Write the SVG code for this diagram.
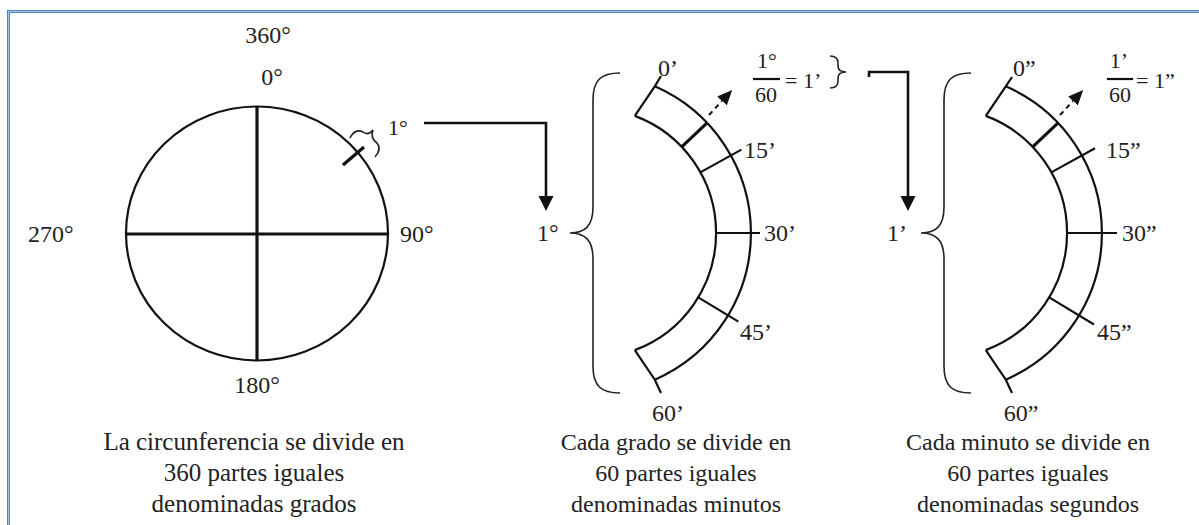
<svg xmlns="http://www.w3.org/2000/svg" width="1199" height="525" viewBox="0 0 1199 525">
<style>
  text { font-family: "Liberation Serif", "Times New Roman", serif; fill: #222; }
  .lbl { font-size: 24px; }
  .frac { font-size: 22px; }
  .cap { font-size: 25px; text-anchor: middle; }
  .cap2 { font-size: 24px; text-anchor: middle; }
  .ln { fill: none; stroke: #111; stroke-width: 2.2; }
  .thin { fill: none; stroke: #222; stroke-width: 1.6; }
  .thick { fill: none; stroke: #111; stroke-width: 3.2; }
  .conn { fill: none; stroke: #111; stroke-width: 2.6; }
  .dash { fill: none; stroke: #111; stroke-width: 2; stroke-dasharray: 5 4; }
</style>
<defs>
  <marker id="ah" markerUnits="userSpaceOnUse" markerWidth="16" markerHeight="16" refX="0" refY="7.5" orient="auto">
    <path d="M0,0 L15,7.5 L0,15 z" fill="#111"/>
  </marker>
  <marker id="ahs" markerUnits="userSpaceOnUse" markerWidth="16" markerHeight="14" refX="0" refY="6.5" orient="auto">
    <path d="M0,0 L15,6.5 L0,13 z" fill="#111"/>
  </marker>
</defs>
<rect width="1199" height="525" fill="#fff"/>
<path d="M1199,11.5 H8.5 V525" fill="none" stroke="#4F81BD" stroke-width="3"/>
<path d="M1199,11.5 H8.5 V525" fill="none" stroke="#A9C4E8" stroke-width="1"/>

<g id="circle">
  <ellipse cx="257" cy="233.5" rx="131" ry="127" class="ln" stroke-width="2.4"/>
  <line x1="257" y1="106.5" x2="257" y2="360.5" class="thick" stroke-width="2.8"/>
  <line x1="126" y1="234" x2="388" y2="234" class="thick" stroke-width="2.8"/>
  <line x1="343" y1="165" x2="364" y2="147" class="thick" stroke-width="3.4"/>
  <path d="M350,138 Q355,128 363,132 Q368,136 373,130 Q370,138 377,143 Q382,149 375,157" class="thin"/>
  <text x="268" y="43" class="lbl" text-anchor="middle">360°</text>
  <text x="272" y="85" class="lbl" text-anchor="middle">0°</text>
  <text x="28" y="242" class="lbl">270°</text>
  <text x="400" y="242" class="lbl">90°</text>
  <text x="257" y="393" class="lbl" text-anchor="middle">180°</text>
  <text x="388" y="135" class="frac">1°</text>
  <text class="cap"><tspan x="254" y="450">La circunferencia se divide en</tspan><tspan x="254" y="481">360 partes iguales</tspan><tspan x="254" y="512">denominadas grados</tspan></text>
</g>

<g id="minutes">
  <path d="M620,73 C601,73 593,80 593,100 L593,207 C593,226 585,233 570,233 C585,233 593,240 593,259 L593,366 C593,386 601,393 620,393" class="thin"/>
  <text x="537" y="241" class="lbl">1°</text>
  <path d="M634.8,115.9 A125,125 0 0 1 634.8,350.1" class="ln"/>
  <path d="M654.8,86.3 A160,160 0 0 1 654.8,379.7" class="ln"/>
  <path d="M634.8,115.9 L654.8,86.3 L661,76" class="ln"/>
  <path d="M634.8,350.1 L654.8,379.7 L661,393" class="ln"/>
  <line x1="681.7" y1="146.9" x2="707.1" y2="122.9" class="thick"/>
  <line x1="709" y1="115" x2="722" y2="101" class="dash" marker-end="url(#ahs)"/>
  <line x1="700.3" y1="172.4" x2="741.4" y2="149.6" class="ln" stroke-width="1.8"/>
  <line x1="716" y1="233" x2="760" y2="233" class="ln" stroke-width="2.6"/>
  <line x1="698.2" y1="297.4" x2="738.4" y2="321.6" class="ln" stroke-width="1.8"/>
  <text x="658" y="76" class="lbl">0’</text>
  <text x="744" y="158" class="lbl">15’</text>
  <text x="764" y="241" class="lbl">30’</text>
  <text x="740" y="340" class="lbl">45’</text>
  <text x="668" y="421" class="lbl" text-anchor="middle">60’</text>
  <text x="767" y="68" class="frac" text-anchor="middle">1°</text>
  <line x1="753" y1="79" x2="780" y2="79" class="ln" stroke-width="1.4"/>
  <text x="766" y="102" class="frac" text-anchor="middle">60</text>
  <text x="785" y="88" class="frac">= 1’</text>
  <path d="M830,56 Q838,56 838,63 L838,66 Q838,72 846,72 Q838,72 838,78 L838,81 Q838,88 830,88" class="thin"/>
  <text class="cap2"><tspan x="676" y="450">Cada grado se divide en</tspan><tspan x="676" y="481">60 partes iguales</tspan><tspan x="676" y="512">denominadas minutos</tspan></text>
</g>

<g id="seconds">
  <path d="M971,73 C952,73 944,80 944,100 L944,207 C944,226 936,233 921,233 C936,233 944,240 944,259 L944,366 C944,386 952,393 971,393" class="thin"/>
  <text x="887" y="241" class="lbl">1’</text>
  <path d="M985.8,115.9 A125,125 0 0 1 985.8,350.1" class="ln"/>
  <path d="M1005.8,86.3 A160,160 0 0 1 1005.8,379.7" class="ln"/>
  <path d="M985.8,115.9 L1005.8,86.3 L1012,77" class="ln"/>
  <path d="M985.8,350.1 L1005.8,379.7 L1012,393" class="ln"/>
  <line x1="1032.7" y1="146.9" x2="1058.1" y2="122.9" class="thick"/>
  <line x1="1060" y1="115" x2="1073" y2="101" class="dash" marker-end="url(#ahs)"/>
  <line x1="1051.3" y1="172.4" x2="1095" y2="148.3" class="ln" stroke-width="1.8"/>
  <line x1="1067" y1="233" x2="1117" y2="233" class="ln" stroke-width="2.6"/>
  <line x1="1049.2" y1="297.4" x2="1094" y2="324.5" class="ln" stroke-width="1.8"/>
  <text x="1013" y="76" class="lbl">0”</text>
  <text x="1106" y="158" class="lbl">15”</text>
  <text x="1122" y="241" class="lbl">30”</text>
  <text x="1097" y="340" class="lbl">45”</text>
  <text x="1021" y="421" class="lbl" text-anchor="middle">60”</text>
  <text x="1119" y="68" class="frac" text-anchor="middle">1’</text>
  <line x1="1107" y1="79" x2="1133" y2="79" class="ln" stroke-width="1.4"/>
  <text x="1120" y="102" class="frac" text-anchor="middle">60</text>
  <text x="1136" y="88" class="frac">= 1”</text>
  <text class="cap2"><tspan x="1028" y="450">Cada minuto se divide en</tspan><tspan x="1028" y="481">60 partes iguales</tspan><tspan x="1028" y="512">denominadas segundos</tspan></text>
</g>

<g id="connectors">
  <path d="M424,123 H546 V196" class="conn" marker-end="url(#ah)"/>
  <path d="M869,77 V72 H908 V196" class="conn" marker-end="url(#ah)"/>
</g>
</svg>
